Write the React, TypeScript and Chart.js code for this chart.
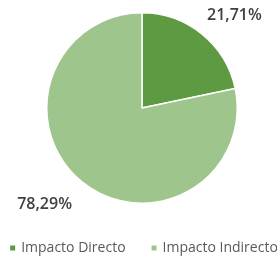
import React, { useEffect, useRef } from "react";
import { Chart, registerables } from "chart.js";

Chart.register(...registerables);

const categories = ["Impacto Directo", "Impacto Indirecto"];
const values = [21.71, 78.29];
const valueLabels = ["21,71%", "78,29%"];
const colors = ["#5e9a42", "#9ec58b"];

const labelPlugin = {
  id: "sliceLabels",
  afterDatasetsDraw(chart: any) {
    const ctx = chart.ctx;
    const meta = chart.getDatasetMeta(0);
    ctx.save();
    ctx.font = "600 16px 'Open Sans'";
    ctx.fillStyle = "#404040";
    ctx.textBaseline = "middle";
    meta.data.forEach((arc: any, i: number) => {
      const p = arc.getProps(["x", "y", "startAngle", "endAngle", "outerRadius"], true);
      const mid = (p.startAngle + p.endAngle) / 2;
      const ex = p.x + Math.cos(mid) * p.outerRadius;
      const ey = p.y + Math.sin(mid) * p.outerRadius;
      const right = Math.cos(mid) >= 0;
      ctx.textAlign = right ? "left" : "right";
      const dx = right ? 5 : -10;
      const dy = Math.sin(mid) >= 0 ? 22 : -19;
      ctx.fillText(valueLabels[i], ex + dx, ey + dy);
    });
    ctx.restore();
  },
};

const legendPlugin = {
  id: "bottomLegend",
  afterDraw(chart: any) {
    const ctx = chart.ctx;
    ctx.save();
    ctx.font = "14px 'Open Sans'";
    ctx.textBaseline = "middle";
    ctx.textAlign = "left";
    const box = 5;
    const textGap = 6;
    const itemGap = 26;
    const widths = categories.map((c) => box + textGap + ctx.measureText(c).width);
    const total = widths.reduce((a, b) => a + b, 0) + itemGap * (categories.length - 1);
    const cx = (chart.chartArea.left + chart.chartArea.right) / 2 + 2;
    let x = cx - total / 2;
    const y = chart.height - 11;
    categories.forEach((c, i) => {
      ctx.fillStyle = colors[i];
      ctx.fillRect(x, y - box / 2, box, box);
      ctx.fillStyle = "#595959";
      ctx.fillText(c, x + box + textGap, y);
      x += widths[i] + itemGap;
    });
    ctx.restore();
  },
};

export default function App() {
  const ref = useRef<HTMLCanvasElement>(null);
  useEffect(() => {
    document.body.style.margin = "0";
    const chart = new Chart(ref.current!, {
      type: "pie",
      data: {
        labels: categories,
        datasets: [
          {
            data: values,
            backgroundColor: colors,
            borderColor: "#ffffff",
            borderWidth: 1.5,
          },
        ],
      },
      options: {
        animation: false,
        responsive: false,
        maintainAspectRatio: false,
        layout: { padding: { top: 12, bottom: 55, left: 7, right: 0 } },
        plugins: {
          tooltip: { enabled: false },
          legend: { display: false },
        },
      },
      plugins: [labelPlugin, legendPlugin],
    });
    return () => chart.destroy();
  }, []);
  return (
    <div style={{ position: "absolute", left: 0, top: 0, width: 277, height: 259 }}>
      <canvas ref={ref} width={277} height={259} style={{ width: 277, height: 259 }} />
    </div>
  );
}
